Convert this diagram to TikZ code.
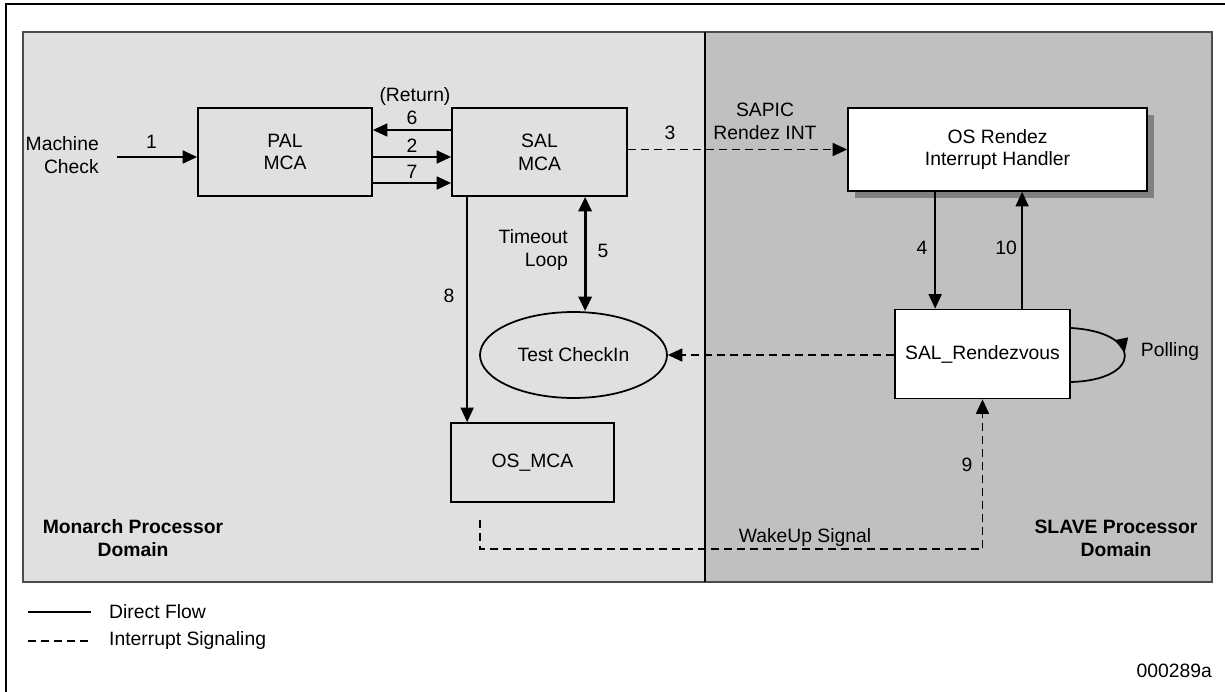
\documentclass[tikz,border=0pt]{standalone}
\usepackage{fontspec}
\setmainfont{Liberation Sans}
\usetikzlibrary{positioning,arrows.meta,calc,shapes.geometric,shadows,decorations.markings}
\definecolor{monarch}{gray}{0.878}
\definecolor{slave}{gray}{0.753}
\definecolor{shade}{gray}{0.5}
\tikzset{
  flow/.style={-{Triangle[length=2.9mm,width=2.6mm]},line width=1pt},
  sig/.style={flow,dash pattern=on 0.16cm off 0.1cm},
  loop5/.style={{Triangle[length=2.9mm,width=2.6mm]}-{Triangle[length=2.9mm,width=2.6mm]},line width=1.8pt},
  poll/.style={line width=1pt,postaction={decorate},decoration={markings,
      mark=at position 0.48 with {\arrow{Triangle[length=2.9mm,width=2.6mm]}}}}, % polling loop
  blk/.style={draw,line width=1pt,fill=#1,align=center,inner sep=2pt},
  blk/.default=monarch,
  domlbl/.style={font=\fontsize{11}{13}\selectfont\bfseries,align=center},
  frame/.style={line width=1.7pt},
}
\begin{document}
\begin{tikzpicture}[x=0.02cm,y=-0.02cm,font=\fontsize{11}{13}\selectfont]
  \useasboundingbox (0,0) rectangle (1225,692);
  \draw[frame] (6,692) -- (6,4) -- (1225,4);
  % processor domains
  \draw[fill=monarch,draw=black!70,line width=0.7pt] (23,32) rectangle (705,582);
  \draw[fill=slave,draw=black!70,line width=0.7pt] (705,32) rectangle (1212,582);
  \draw[line width=1.7pt] (705,32) -- (705,582);
  \node[domlbl] at (133,538) {Monarch Processor\\Domain};
  \node[domlbl] at (1116,538) {SLAVE Processor\\Domain};

  % blocks
  \node[blk,minimum width=3.48cm,minimum height=1.76cm] (pal) at (285,152) {PAL\\MCA};
  \node[blk,minimum width=3.5cm,minimum height=1.76cm] (sal) at (539.5,152) {SAL\\MCA};
  \node[blk=white,minimum width=5.98cm,minimum height=1.66cm,
    drop shadow={shadow xshift=0.14cm,shadow yshift=-0.14cm,fill=shade,opacity=1}]
    (osr) at (997.5,149.5) {OS Rendez\\Interrupt Handler};
  \node[blk=white,minimum width=3.5cm,minimum height=1.78cm] (salr) at (982.5,354) {SAL\_Rendezvous};
  \node[blk,ellipse,minimum width=3.74cm,minimum height=1.72cm] (tci) at (573.5,355) {Test CheckIn};
  \node[blk,minimum width=3.26cm,minimum height=1.58cm] (osmca) at (532.5,462.5) {OS\_MCA};

  % machine check entry
  \coordinate (mc) at (117,157);
  \node[anchor=east,align=right] at (105,155) {Machine\\Check};
  \draw[flow] (mc) -- (mc -| pal.west) node[pos=0.43,above=1pt] {1};

  % PAL <-> SAL
  \draw[flow] ($(sal.west)+(0,-22)$) -- ($(pal.east)+(0,-22)$) node[midway,above=-1pt] {6};
  \draw[flow] ($(pal.east)+(0,5)$) -- ($(sal.west)+(0,5)$) node[midway,above=-1pt] {2};
  \draw[flow] ($(pal.east)+(0,31)$) -- ($(sal.west)+(0,31)$) node[midway,above=-1pt] {7};
  \node at (415,97) {(Return)};

  % SAPIC rendezvous interrupt
  \draw[sig] (sal.east |- osr.west) -- (osr.west);
  \node at (670,133) {3};
  \node[align=center] at (765,121) {SAPIC\\Rendez INT};

  % OS rendez <-> SAL_Rendezvous
  \draw[flow] (osr.south west) ++(88,0) coordinate (a4) -- (a4 |- salr.north);
  \draw[flow] (salr.north west) ++(128,0) coordinate (a10) -- (a10 |- osr.south);
  \node at (922,248) {4};
  \node at (1006,248) {10};

  % timeout loop
  \draw[loop5] (sal.south west) ++(134,0) coordinate (a5) -- (a5 |- tci.north);
  \node at (603,251) {5};
  \node[anchor=east,align=right] at (574,250) {Timeout\\Loop};

  % SAL -> OS_MCA
  \draw[flow] (sal.south west) ++(16,0) coordinate (a8) -- (a8 |- osmca.north);
  \node at (449,296) {8};

  % checkin signal and polling
  \draw[sig] (salr.west |- tci.east) -- (tci.east);
  \draw[poll] ($(salr.east)+(0,-26)$) .. controls ($(salr.east)+(72,-22)$) and ($(salr.east)+(72,26)$) .. ($(salr.east)+(0,28)$);
  \node at (1170,352) {Polling};

  % wakeup signal
  \draw[sig] ($(osmca.south west)+(30,17)$) |- ($(salr.south)+(0,150)$) -- (salr.south);
  \node at (967,465) {9};
  \node at (805,538) {WakeUp Signal};

  % legend
  \coordinate (lg1) at (28,612);
  \coordinate (lg2) at (28,641);
  \draw[line width=1pt] (lg1) -- ++(63,0);
  \draw[line width=1pt,dash pattern=on 0.16cm off 0.1cm] (lg2) -- ++(63,0);
  \node[anchor=west] at (103,612) {Direct Flow};
  \node[anchor=west] at (103,641) {Interrupt Signaling};
  \node[anchor=east] at (1218,671) {000289a};
\end{tikzpicture}
\end{document}
